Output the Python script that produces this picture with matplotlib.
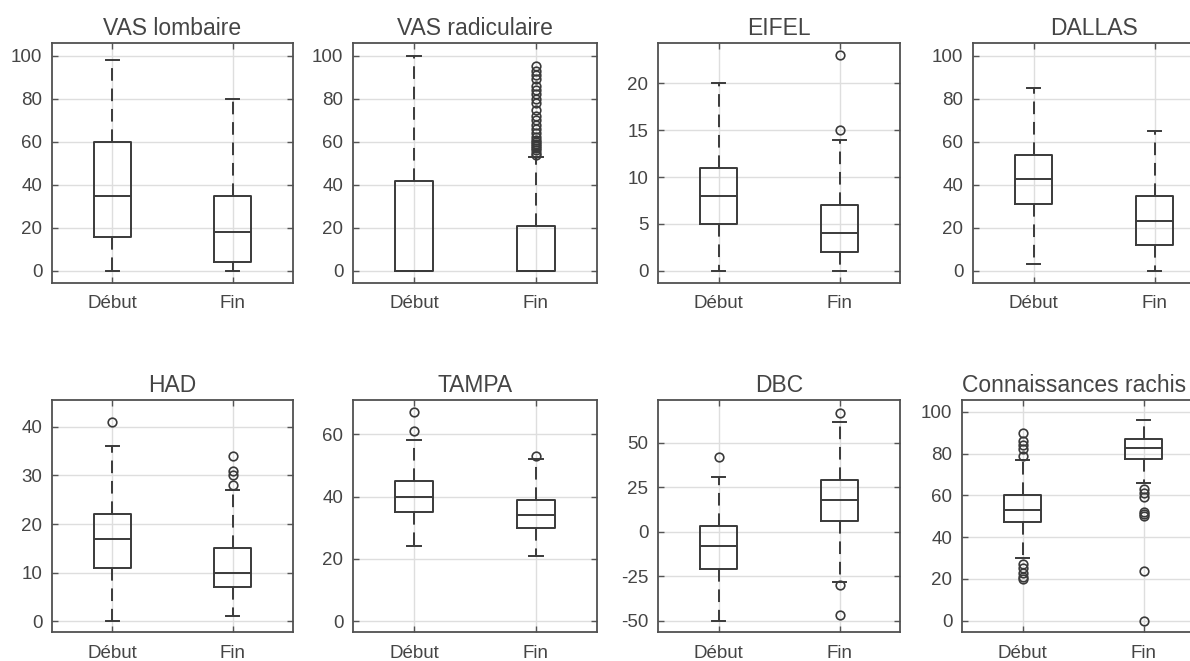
import matplotlib
matplotlib.use('Agg')
import matplotlib.pyplot as plt

plt.rcParams['font.family'] = ['Liberation Sans', 'DejaVu Sans']
plt.rcParams['axes.unicode_minus'] = False

# ---------------- data ----------------
groups = ['Début', 'Fin']
titles = ['VAS lombaire', 'VAS radiculaire', 'EIFEL', 'DALLAS',
          'HAD', 'TAMPA', 'DBC', 'Connaissances rachis']

# each entry: [Début, Fin]
medians = [[35, 18], [0, 0], [8, 4], [42.5, 23.3],
           [17, 10], [40, 34], [-8, 18], [53, 82.5]]
q1 = [[16, 4], [0, 0], [5, 2], [31, 12],
      [11, 7], [35, 30], [-21, 6], [47, 77.5]]
q3 = [[60, 35], [42, 21], [11, 7], [54, 35],
      [22, 15], [45, 39], [3.5, 29], [60, 87]]
whislo = [[0, 0], [0, 0], [0, 0], [3, 0],
          [0, 1], [24, 21], [-50, -28], [30, 66]]
whishi = [[98, 80], [100, 53], [20, 14], [85, 65],
          [36, 27], [58, 52], [31, 62], [77, 96]]

outliers = [
    [[], []],
    [[], [54, 55, 56, 57, 58, 59, 60, 61, 62, 64, 66, 68, 70, 72, 75,
          78, 80, 82, 84, 86, 89, 91, 93, 95]],
    [[], [15, 23]],
    [[], []],
    [[41], [28, 30, 31, 34]],
    [[61, 67], [53]],
    [[42], [67, -30, -47]],
    [[79, 82, 84, 86, 90, 27, 25, 23, 21, 20],
     [63, 61, 59, 52, 51, 50, 24, 0]],
]

yticks = [[0, 20, 40, 60, 80, 100], [0, 20, 40, 60, 80, 100],
          [0, 5, 10, 15, 20], [0, 20, 40, 60, 80, 100],
          [0, 10, 20, 30, 40], [0, 20, 40, 60],
          [-50, -25, 0, 25, 50], [0, 20, 40, 60, 80, 100]]
ylims = [(-5.6, 105.9), (-5.6, 105.9), (-1.3, 24.3), (-5.6, 105.9),
         (-2.2, 45.5), (-3.5, 71), (-56.4, 74.2), (-5.4, 105.6)]

# ---------------- layout ----------------
W, H = 1190, 661
fig = plt.figure(figsize=(W / 100, H / 100), dpi=100)

# pixel boxes: (left, top, right, bottom)
boxes = [(52, 43, 293, 283), (353, 43, 597, 283), (658, 43, 900, 283), (973, 43, 1215, 283),
         (52, 400, 293, 632), (353, 400, 597, 632), (658, 400, 900, 632), (962, 400, 1204, 632)]

dark = '#3a3a3a'
txt = '#454545'

for i, (l, t, r, b) in enumerate(boxes):
    ax = fig.add_axes([l / W, 1 - b / H, (r - l) / W, (b - t) / H])
    stats = []
    for j, g in enumerate(groups):
        stats.append(dict(med=medians[i][j], q1=q1[i][j], q3=q3[i][j],
                          whislo=whislo[i][j], whishi=whishi[i][j],
                          fliers=outliers[i][j], label=g))
    ax.bxp(stats, positions=[1, 2], widths=0.31, capwidths=0.11,
           showfliers=True, manage_ticks=False,
           boxprops=dict(color=dark, lw=1.4),
           medianprops=dict(color=dark, lw=1.4),
           whiskerprops=dict(color=dark, lw=1.4, linestyle=(0, (6.5, 4.0))),
           capprops=dict(color=dark, lw=1.4),
           flierprops=dict(marker='o', markerfacecolor='none',
                           markeredgecolor=dark, markersize=6.2,
                           markeredgewidth=1.2, linestyle='none'))
    ax.set_xlim(0.5, 2.5)
    ax.set_ylim(*ylims[i])
    ax.set_xticks([1, 2])
    ax.set_xticklabels(groups)
    ax.set_yticks(yticks[i])
    ax.grid(True, color='#dedede', lw=1.0)
    ax.set_axisbelow(True)
    ax.tick_params(direction='in', length=4, width=1.0, top=True, right=True,
                   color='#555555', labelsize=13.5, labelcolor=txt)
    ax.tick_params(axis='x', pad=9)
    ax.tick_params(axis='y', pad=7)
    for s in ax.spines.values():
        s.set_color('#505050')
        s.set_linewidth(1.3)
    if i == 7:
        ax.set_title(titles[i], fontsize=16.5, color=txt, pad=6, loc='left')
    else:
        ax.set_title(titles[i], fontsize=16.5, color=txt, pad=6)

fig.savefig('out.png', dpi=100)
